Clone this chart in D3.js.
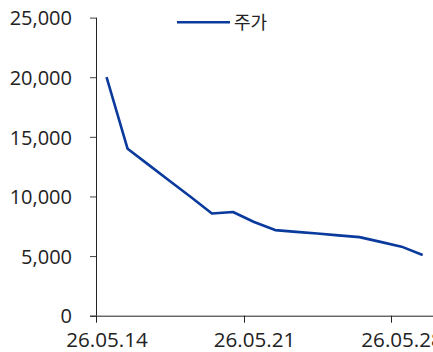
<!DOCTYPE html>
<html><head><meta charset="utf-8">
<script src="https://cdn.jsdelivr.net/npm/d3@7"></script>
<style>
html,body{margin:0;padding:0;background:#fff;}
svg{display:block;font-family:"Open Sans","Noto Sans CJK KR",sans-serif;}
</style></head>
<body>
<svg id="c" width="433" height="352"></svg>
<script>
const dates = ["26.05.14","26.05.15","26.05.16","26.05.17","26.05.18","26.05.19","26.05.20","26.05.21","26.05.22","26.05.23","26.05.24","26.05.25","26.05.26","26.05.27","26.05.28","26.05.29"];
const prices = [20000,14000,12650,11300,9950,8570,8700,7860,7180,7030,6890,6740,6590,6190,5790,5090];
const yTicks = [0,5000,10000,15000,20000,25000];
const xTickLabels = ["26.05.14","26.05.21","26.05.28"];
const seriesName = "주가";

const svg = d3.select("#c");
const x = d3.scaleBand().domain(dates).range([96, 433.2]);
const y = d3.scaleLinear().domain([0,25000]).range([315.7, 17.6]);
const color = "#0a3a9c";

// y axis
const yAxis = svg.append("g").attr("transform","translate(96,0)")
  .call(d3.axisLeft(y).tickValues(yTicks).tickSize(6).tickPadding(18).tickFormat(d3.format(",")));
yAxis.select(".domain").attr("stroke","#222").attr("d","M0.5,"+y(25000)+"V"+y(0));
yAxis.selectAll(".tick line").attr("stroke","#444");
yAxis.selectAll("text").attr("font-size",20).attr("fill","#222").attr("font-family","Open Sans").attr("dy","0.36em");

// x axis
const xg = svg.append("g").attr("transform","translate(0,"+y(0)+")");
xg.append("line").attr("x1",90).attr("x2",433).attr("y1",0.5).attr("y2",0.5).attr("stroke","#222");
const tickDates = dates.filter(d => xTickLabels.includes(d));
xg.selectAll(".xt").data(tickDates).enter().append("line")
  .attr("x1",d=>Math.round(x(d))+0.5).attr("x2",d=>Math.round(x(d))+0.5)
  .attr("y1",0).attr("y2",7).attr("stroke","#222");
xg.selectAll(".xl").data(tickDates).enter().append("text")
  .attr("x",d=>x(d)+x.bandwidth()/2+0.5).attr("y",31)
  .attr("text-anchor","middle").attr("font-size",20.6).attr("fill","#222")
  .text(d=>d);

// line
const line = d3.line().x((d,i)=>x(dates[i])+x.bandwidth()/2).y(d=>y(d));
svg.append("path").datum(prices).attr("d",line).attr("fill","none")
  .attr("stroke",color).attr("stroke-width",2.6).attr("stroke-linejoin","round");

// legend
svg.append("line").attr("x1",177).attr("x2",230).attr("y1",22.3).attr("y2",22.3)
  .attr("stroke",color).attr("stroke-width",2.6);
svg.append("text").attr("x",234).attr("y",29).attr("font-size",18)
  .attr("font-family","Noto Sans CJK KR").attr("fill","#222").text(seriesName);
</script>
</body></html>
